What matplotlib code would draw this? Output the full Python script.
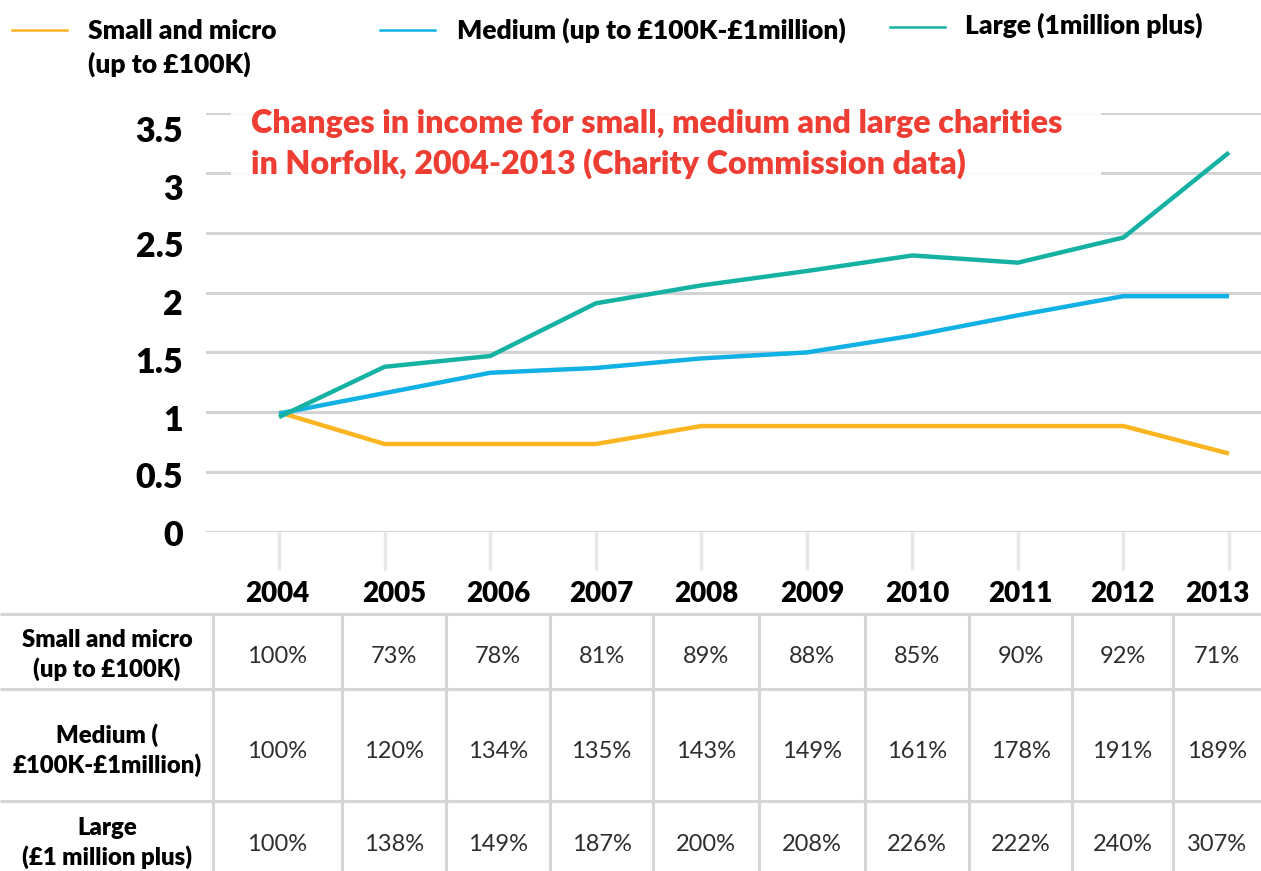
import matplotlib.pyplot as plt
from matplotlib.lines import Line2D
from matplotlib.patches import Rectangle

plt.rcParams['font.family'] = ['Lato', 'DejaVu Sans']

years = list(range(2004, 2014))
y_ticks = [0, 0.5, 1, 1.5, 2, 2.5, 3, 3.5]
y_tick_labels = ['0', '0.5', '1', '1.5', '2', '2.5', '3', '3.5']

# income index as drawn on the chart (2004 = 1)
small_line = [1.00, 0.735, 0.735, 0.735, 0.885, 0.885, 0.885, 0.885, 0.885, 0.655]
medium_line = [0.99, 1.16, 1.33, 1.37, 1.45, 1.50, 1.64, 1.81, 1.97, 1.97]
large_line = [0.96, 1.38, 1.47, 1.91, 2.06, 2.18, 2.31, 2.25, 2.46, 3.17]

# table figures (% of 2004 income)
small_pct = [100, 73, 78, 81, 89, 88, 85, 90, 92, 71]
medium_pct = [100, 120, 134, 135, 143, 149, 161, 178, 191, 189]
large_pct = [100, 138, 149, 187, 200, 208, 226, 222, 240, 307]

legend_labels = ['Small and micro\n(up to £100K)',
                 'Medium (up to £100K-£1million)',
                 'Large (1million plus)']
row_labels = ['Small and micro\n(up to £100K)',
              'Medium (\n£100K-£1million)',
              'Large\n(£1 million plus)']
title = ('Changes in income for small, medium and large charities\n'
         'in Norfolk, 2004-2013 (Charity Commission data)')

C_SMALL = '#FBB521'
C_MEDIUM = '#12B1E5'
C_LARGE = '#15B2A4'
C_GRID = '#d2d3d5'
BOLD = 'heavy'

W, H = 1261, 871
fig = plt.figure(figsize=(W / 100, H / 100), dpi=100)


def box(x0, y0, x1, y1):
    # pixel rectangle (origin top-left) -> figure fraction [l, b, w, h]
    return [x0 / W, 1 - y1 / H, (x1 - x0) / W, (y1 - y0) / H]


# main line chart
ax = fig.add_axes(box(206, 113, 1261, 532))
ax.set_xlim(2003.308, 2013.303)
ax.set_ylim(0, 3.5)
for s in ax.spines.values():
    s.set_visible(False)
ax.spines['bottom'].set_position(('data', 0))
ax.set_yticks(y_ticks)
ax.yaxis.grid(True, color=C_GRID, lw=2.2)
ax.tick_params(axis='y', length=0, labelleft=False)
ax.set_xticks(years)
ax.tick_params(axis='x', length=27, width=2.4, color='#e6e7e9',
               labelbottom=False)

for vals, col in [(small_line, C_SMALL), (medium_line, C_MEDIUM),
                  (large_line, C_LARGE)]:
    ax.plot(years, vals, color=col, lw=3.2, solid_capstyle='butt',
            solid_joinstyle='miter', zorder=3, clip_on=False)

# y labels sit on their own axis, slightly tighter than the grid
lab = fig.add_axes(box(190, 129, 206, 533))
lab.set_ylim(0, 3.5)
lab.set_xticks([])
lab.set_yticks(y_ticks)
lab.set_yticklabels(y_tick_labels, fontsize=24.5, fontweight=BOLD)
lab.tick_params(axis='y', length=0, pad=5)
lab.patch.set_visible(False)
for s in lab.spines.values():
    s.set_visible(False)

# title on a white panel over the top gridlines
fig.patches.append(Rectangle((231 / W, 1 - 178 / H), 870 / W, 76 / H,
                             transform=fig.transFigure, facecolor='white',
                             alpha=0.93, edgecolor='none', zorder=1))
fig.text(251 / W, 1 - 144 / H, title, color='#EE3D33', fontsize=23.2,
         fontweight=BOLD, va='center', ha='left', linespacing=1.42,
         zorder=4)

# legend: (line x, line y, text x, text y) in pixels
legend_pos = [(12, 30, 88, 30), (380, 30, 457, 28), (890, 27, 965, 23)]
for (lx, ly, tx, ty), label, col in zip(legend_pos, legend_labels,
                                        [C_SMALL, C_MEDIUM, C_LARGE]):
    fig.add_artist(Line2D([lx / W, (lx + 55) / W], [1 - ly / H, 1 - ly / H],
                          transform=fig.transFigure, color=col, lw=1.8))
    fig.text(tx / W, 1 - (ty - 11) / H, label, fontsize=19, fontweight=BOLD,
             va='top', ha='left', linespacing=1.39)

# data table
tab = fig.add_axes(box(0, 560, W, H))
tab.set_xlim(0, W)
tab.set_ylim(H, 560)
tab.axis('off')

col_edges = [0, 213, 342, 446, 550, 653, 759, 865, 969, 1072, 1173, 1261]
row_edges = [614, 689, 801]
row_mid = [654, 749, 842]
col_mid = [(a + b) / 2 for a, b in zip(col_edges[1:-1], col_edges[2:])]

tab.hlines(row_edges, 0, W, color='#d6d6d6', lw=2.2)
tab.vlines(col_edges[1:-1], 614, H, color='#d6d6d6', lw=2.2)

for x, yr in zip(col_mid, years):
    tab.text(x, 594, str(yr), ha='center', va='center', fontsize=20,
             fontweight=BOLD)

for y, label, vals in zip(row_mid, row_labels,
                          [small_pct, medium_pct, large_pct]):
    tab.text(107, y + 1, label, ha='center', va='center', fontsize=17.2,
             fontweight=BOLD, linespacing=1.32)
    for x, v in zip(col_mid, vals):
        tab.text(x, y + 2, f'{v}%', ha='center', va='center', fontsize=17,
                 fontweight='normal', color='#2e2e2e')

fig.savefig('out.png', dpi=100, facecolor='white')
